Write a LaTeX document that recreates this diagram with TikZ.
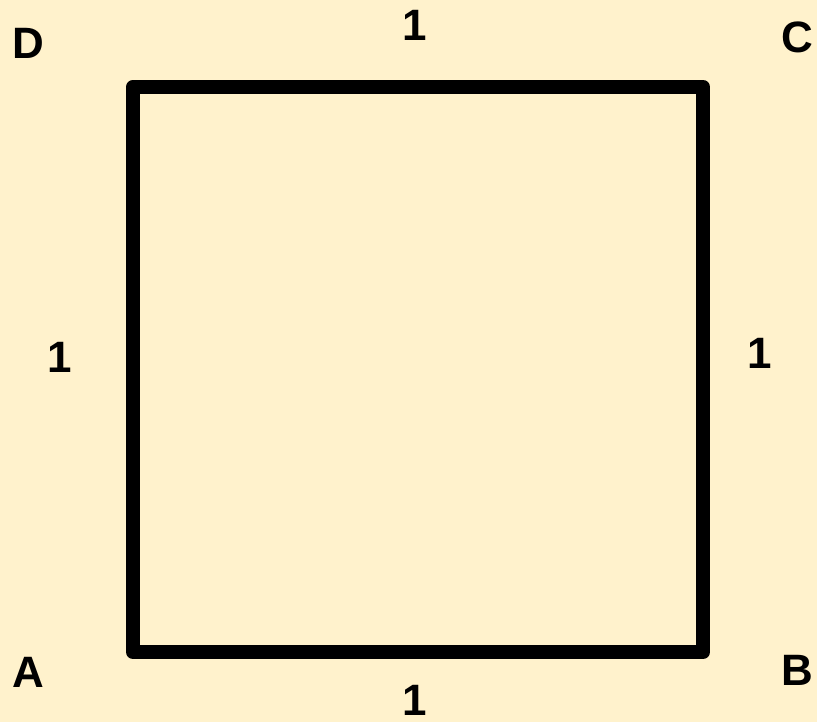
\documentclass[tikz,border=0pt]{standalone}
\usepackage{fontspec}
\setmainfont{Liberation Sans}
\usepackage{xcolor}
\usepackage{tikz}
\usetikzlibrary{positioning}
\definecolor{bgcream}{HTML}{FFF2CC}

\begin{document}
\begin{tikzpicture}[font=\fontsize{25}{30}\selectfont\bfseries,
  side/.style={draw=black,line width=8pt,line join=round,line cap=round},
  vlab/.style={inner sep=0pt,anchor=center},
  slab/.style={inner sep=0pt,anchor=center}]
\fill[bgcream] (0,0) rectangle (16.34,14.44);
\useasboundingbox (0,0) rectangle (16.34,14.44);
\coordinate (a) at (2.66,1.40);
\coordinate (b) at (14.06,1.40);
\coordinate (c) at (14.06,12.70);
\coordinate (d) at (2.66,12.70);
\draw[side] (a) -- (b) -- (c) -- (d) -- cycle;
\node[vlab] (la) at (0.56,1.00) {A};
\node[vlab] (lb) at (15.94,1.04) {B};
\node[vlab] (lc) at (15.94,13.70) {C};
\node[vlab] (ld) at (0.56,13.58) {D};
\node[slab] (sab) at (8.30,0.44) {1};
\node[slab] (sbc) at (15.20,7.38) {1};
\node[slab] (scd) at (8.30,13.94) {1};
\node[slab] (sda) at (1.20,7.30) {1};
\end{tikzpicture}
\end{document}
